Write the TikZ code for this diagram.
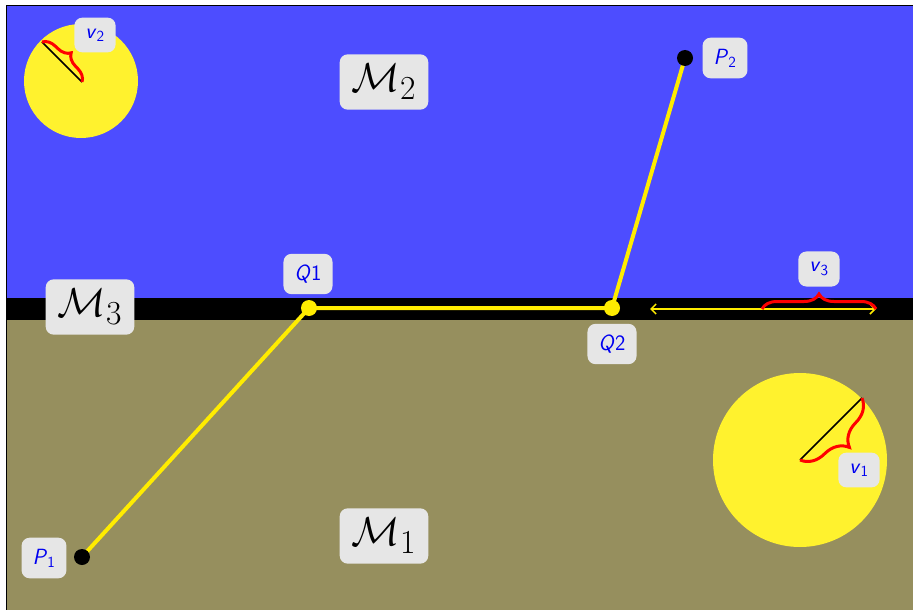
\documentclass[tikz,border=0pt]{standalone}
\usepackage{graphicx}
\usetikzlibrary{decorations.pathreplacing,arrows.meta}
\definecolor{skyblue}{RGB}{77,77,255}
\definecolor{ground}{RGB}{150,143,94}
\definecolor{sun}{RGB}{255,242,46}
\definecolor{path}{RGB}{255,236,0}
\definecolor{lblfill}{RGB}{230,230,230}
\definecolor{lbltext}{RGB}{0,0,240}
\newcommand{\bigM}[1]{\scalebox{1.62}{$\mathcal{M}_{#1}$}}
\tikzset{
  lbl/.style={fill=lblfill, rounded corners=8pt, inner sep=11pt, text=lbltext,
    font=\fontsize{22}{26}\selectfont\sffamily},
  mlbl/.style={fill=lblfill, rounded corners=8pt, inner xsep=12pt, inner ysep=10pt, text=black,
    font=\fontsize{24.88}{30}\selectfont},
  pathline/.style={draw=path, line width=4pt},
  bracered/.style={draw=red, line width=3pt, decorate},
  radius line/.style={draw=black, line width=1.5pt},
}
\begin{document}
\begin{tikzpicture}[x=1pt,y=-1pt]
\useasboundingbox (0,0) rectangle (913,610);
% regions
\fill[skyblue] (6,6) rectangle (913,298);
\fill[black] (6,298) rectangle (913,320);
\fill[ground] (6,320) rectangle (913,610);
\draw[black, line width=1pt] (6,610) -- (6,6) -- (913,6);
% sun circles
\fill[sun] (81,81) circle (57);
\fill[sun] (800,460) circle (87);
\coordinate (c2) at (82,82);
\coordinate (e2) at (42,42);
\coordinate (c1) at (800,460);
\coordinate (e1) at (862,398);
\draw[radius line] (c2) -- (e2);
\draw[radius line] (c1) -- (e1);
\draw[bracered, decoration={brace, amplitude=13pt, mirror}] (c2) -- (e2);
\draw[bracered, decoration={brace, amplitude=26pt, mirror}] (c1) -- (e1);
% v3 arrow and brace
\coordinate (a3) at (650,309);
\coordinate (b3) at (876,309);
\coordinate (s3) at (762,309);
\draw[draw=path, line width=1.5pt, {Straight Barb[length=5pt,width=10pt]}-{Straight Barb[length=5pt,width=10pt]}] (a3) -- (b3);
\draw[bracered, decoration={brace, amplitude=15pt}] (s3) -- (b3);
% path
\coordinate (P1) at (82,557);
\coordinate (Q1) at (309,308);
\coordinate (Q2) at (612,308);
\coordinate (P2) at (685,58);
\draw[pathline] (P1) -- (Q1) -- (Q2) -- (P2);
\fill[black] (P1) circle (8);
\fill[black] (P2) circle (8);
\fill[path] (Q1) circle (8);
\fill[path] (Q2) circle (8);
% labels
\node[lbl] (lQ1) at (308,274) {\textit{Q}1};
\node[lbl] (lQ2) at (612,344) {\textit{Q}2};
\node[lbl] (lP1) at (44,558) {\textit{P}\textsubscript{1}};
\node[lbl] (lP2) at (725,58) {\textit{P}\textsubscript{2}};
\node[lbl] (lv2) at (95,35) {\textit{v}\textsubscript{2}};
\node[lbl] (lv1) at (859,470) {\textit{v}\textsubscript{1}};
\node[lbl] (lv3) at (819,269) {\textit{v}\textsubscript{3}};
\node[mlbl] (M2) at (384,82) {\bigM{2}};
\node[mlbl] (M3) at (90,307) {\bigM{3}};
\node[mlbl] (M1) at (384,536) {\bigM{1}};
\end{tikzpicture}
\end{document}
